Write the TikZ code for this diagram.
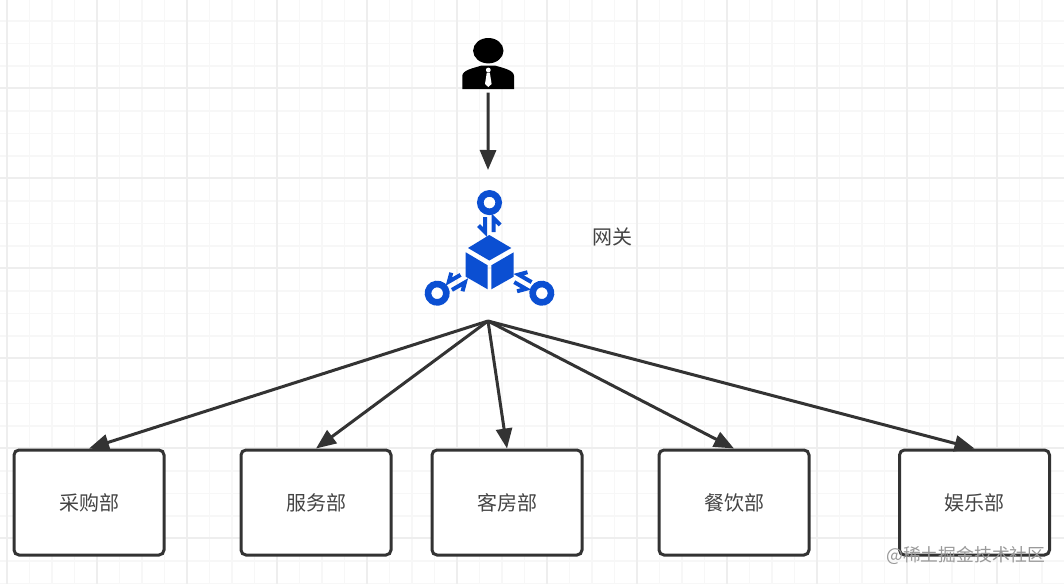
\documentclass[tikz,border=0pt]{standalone}
\usepackage{fontspec}
\setmainfont{Noto Sans CJK SC}
\usetikzlibrary{arrows.meta}
\definecolor{ink}{HTML}{333333}
\definecolor{textink}{HTML}{444444}
\definecolor{iconblue}{HTML}{0B4FD2}
\definecolor{gridminor}{HTML}{F7F7F7}
\definecolor{gridmajor}{HTML}{EEEEEE}
\tikzset{
  x=1pt,y=-1pt,
  dept/.style={draw=ink,line width=3pt,rounded corners=5pt,fill=white,minimum width=150pt,minimum height=105pt,inner sep=0pt,text=textink,font=\fontsize{20}{24}\selectfont},
  link/.style={draw=ink,line width=3pt,-{Triangle[length=20pt,width=16pt]}},
  caption/.style={text=textink,inner sep=0pt,font=\fontsize{20}{24}\selectfont},
  mark label/.style={text=black!40,inner sep=0pt,font=\fontsize{17.8}{22}\selectfont},
  harpoon/.style={draw=iconblue,line width=4pt,line cap=butt,line join=miter},
  ring/.style={draw=iconblue,line width=6.6pt,fill=white},
}
\begin{document}
\begin{tikzpicture}
\useasboundingbox (0,0) rectangle (1064,584);
\fill[white] (0,0) rectangle (1064,584);
% grid
\foreach \k in {0,...,47}{
  \draw[gridminor,line width=1.6pt] ({7+22.5*\k},0) -- ({7+22.5*\k},584);
}
\foreach \k in {-1,...,25}{
  \draw[gridminor,line width=1.6pt] (0,{21+22.5*\k}) -- (1064,{21+22.5*\k});
}
\foreach \k in {0,...,11}{
  \draw[gridmajor,line width=1.6pt] ({7+90*\k},0) -- ({7+90*\k},584);
}
\foreach \k in {0,...,5}{
  \draw[gridmajor,line width=1.6pt] (0,{88+90*\k}) -- (1064,{88+90*\k});
}
% person
\node[inner sep=0pt,minimum width=52pt,minimum height=51pt] (person) at (488.2,64.5) {};
\fill[black] (488.3,50.7) ellipse [x radius=15.2,y radius=12.7];
\fill[black] (462.3,89) -- (462.3,76) .. controls (462.3,70) and (474,68) .. (481,65.7)
  -- (495.5,65.7) .. controls (503,68) and (514,70) .. (514,76) -- (514,89) -- cycle;
\fill[white] (488.3,70) circle [radius=2.4];
\fill[white] (486.8,72.5) -- (489.8,72.5) -- (491.6,84) -- (488.3,87) -- (485,84) -- cycle;
% gateway icon
\node[inner sep=0pt,minimum width=130pt,minimum height=116pt] (gateway) at (489.5,248) {};
\fill[iconblue] (489.3,235) -- (511.3,248) -- (489.3,260.5) -- (468,248) -- cycle;
\fill[iconblue] (465.7,252.3) -- (487.7,265.3) -- (487.7,289.3) -- (465.7,276.7) -- cycle;
\fill[iconblue] (491.3,265.3) -- (513.7,252.3) -- (513.7,276.7) -- (491.3,289.3) -- cycle;
\foreach \a in {0,120,240}{
  \begin{scope}[rotate around={\a:(489.5,263)}]
    \draw[ring] (489.5,202.6) circle [radius=9.2];
    \draw[harpoon] (485,217) -- (485,232) -- (478.5,225.5);
    \draw[harpoon] (493.7,232) -- (493.7,218.5) -- (500.2,225);
  \end{scope}
}
\coordinate (gwin) at (488,170);
\coordinate (gwout) at (488,321);
\node[caption] (gwlabel) at (612.5,237) {网关};
% departments
\node[dept] (d1) at (89,502.5) {采购部};
\node[dept] (d2) at (316,502.5) {服务部};
\node[dept] (d3) at (507,502.5) {客房部};
\node[dept] (d4) at (734,502.5) {餐饮部};
\node[dept] (d5) at (974.5,502.5) {娱乐部};
% connectors
\draw[link] (person.south) ++(0,2.5) -- (gwin);
\draw[link] (gwout) -- (d1.north);
\draw[link] (gwout) -- (d2.north);
\draw[link] (gwout) -- (d3.north);
\draw[link] (gwout) -- (d4.north);
\draw[link] (gwout) -- (d5.north);
% watermark
\node[mark label,anchor=west] (wm) at (886,555) {@稀土掘金技术社区};
\end{tikzpicture}
\end{document}
